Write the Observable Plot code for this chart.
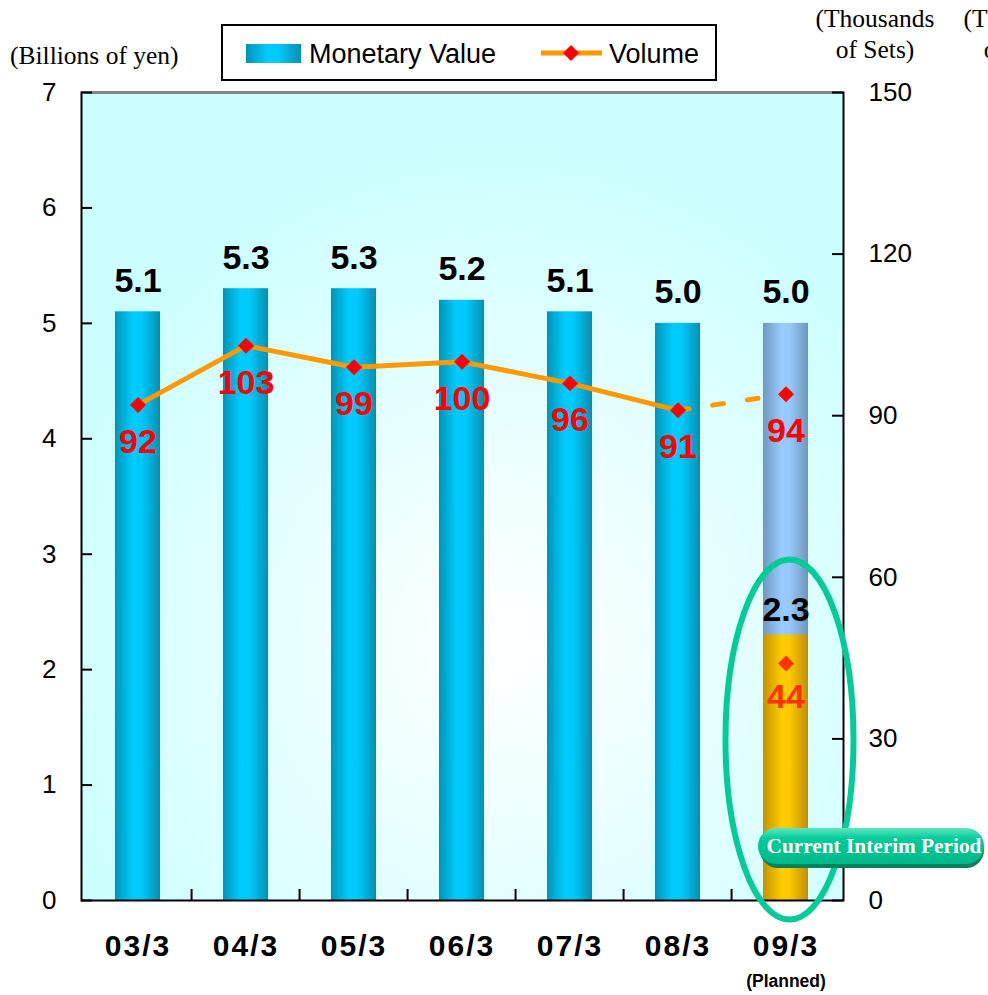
<!DOCTYPE html>
<html>
<head>
<meta charset="utf-8">
<script src="https://cdn.jsdelivr.net/npm/d3@7"></script>
<script src="https://cdn.jsdelivr.net/npm/@observablehq/plot@0.6"></script>
<style>
  html, body { margin: 0; padding: 0; background: #fff; }
  g[aria-label="x-axis tick label"] text { letter-spacing: 2px; }
</style>
</head>
<body>
<div id="chart"></div>
<script>
// Fiscal years (ending March)
const categories = ["03/3", "04/3", "05/3", "06/3", "07/3", "08/3", "09/3"];
// Monetary value, billions of yen
const monetaryValue = [5.1, 5.3, 5.3, 5.2, 5.1, 5.0, 5.0];
// Volume, thousands of sets
const volume = [92, 103, 99, 100, 96, 91, 94];
// Last year is a plan figure
const planned = [false, false, false, false, false, false, true];
// Current interim period results
const interimCategory = "09/3";
const interimValue = 2.3;
const interimVolume = 44;
// Axis ticks
const yenTicks = [0, 1, 2, 3, 4, 5, 6, 7];
const setTicks = [0, 30, 60, 90, 120, 150];

const W = 988, H = 995;
const M = {top: 92, right: 145, bottom: 95, left: 81};
const plotW = W - M.left - M.right;
const plotH = H - M.top - M.bottom;
const step = plotW / categories.length;
const k = 7 / 150; // thousands of sets → billions-of-yen axis units

const rows = categories.map((cat, i) => ({cat, value: monetaryValue[i], vol: volume[i], planned: planned[i]}));
const actual = rows.filter(d => !d.planned);
const plan = rows.filter(d => d.planned);
const interim = [{cat: interimCategory, value: interimValue, vol: interimVolume}];

const LABEL_FONT = "'Liberation Sans', Arial, sans-serif";
const SERIF = "'Liberation Serif', 'Times New Roman', serif";

// Gradient definitions shared by the bars, background and callout
function gradients() {
  const g = d3.create("svg:g");
  const defs = g.append("defs");
  const horiz = (id, stops) => {
    const lg = defs.append("linearGradient").attr("id", id)
      .attr("x1", 0).attr("x2", 1).attr("y1", 0).attr("y2", 0);
    stops.forEach(([o, c]) => lg.append("stop").attr("offset", o).attr("stop-color", c));
  };
  horiz("barBlue", [[0, "#0094b6"], [0.4, "#00ccff"], [0.6, "#00c8fa"], [1, "#0090b0"]]);
  horiz("barPlan", [[0, "#6f98bf"], [0.42, "#99ccff"], [0.6, "#96c8fa"], [1, "#6e96bc"]]);
  horiz("barGold", [[0, "#c49200"], [0.42, "#ffcc00"], [0.6, "#fcc800"], [1, "#c08e00"]]);
  const rg = defs.append("radialGradient").attr("id", "bg")
    .attr("cx", 0.55).attr("cy", 0.68).attr("r", 0.62);
  rg.append("stop").attr("offset", 0).attr("stop-color", "#ffffff");
  rg.append("stop").attr("offset", 1).attr("stop-color", "#ccffff");
  const bd = defs.append("linearGradient").attr("id", "badge")
    .attr("x1", 0).attr("x2", 0).attr("y1", 0).attr("y2", 1);
  bd.append("stop").attr("offset", 0).attr("stop-color", "#5fe6c0");
  bd.append("stop").attr("offset", 0.3).attr("stop-color", "#00cc99");
  bd.append("stop").attr("offset", 1).attr("stop-color", "#00b888");
  return g.node();
}

// Axis titles and legend in the top margin
function header() {
  const g = d3.create("svg:g").attr("text-anchor", "start");
  const t = (x, y, s, anchor = "middle") => g.append("text")
    .attr("x", x).attr("y", y).attr("text-anchor", anchor)
    .attr("font-family", SERIF).attr("font-size", 25.5).attr("fill", "#000").text(s);
  t(10, 64, "(Billions of yen)", "start");
  t(875, 27, "(Thousands");
  t(875, 58, "of Sets)");
  t(1023, 27, "(Thousands");
  t(1023, 58, "of Sets)");

  g.append("rect").attr("x", 222).attr("y", 25).attr("width", 494).attr("height", 55)
    .attr("fill", "#fff").attr("stroke", "#000").attr("stroke-width", 2);
  g.append("rect").attr("x", 246).attr("y", 44).attr("width", 55).attr("height", 19)
    .attr("fill", "url(#barBlue)");
  g.append("text").attr("x", 309).attr("y", 63).attr("text-anchor", "start")
    .attr("font-family", LABEL_FONT).attr("font-size", 27).attr("fill", "#000").text("Monetary Value");
  g.append("line").attr("x1", 541).attr("x2", 602).attr("y1", 53).attr("y2", 53)
    .attr("stroke", "#ff9900").attr("stroke-width", 5);
  g.append("path").attr("d", "M571,45L579,53L571,61L563,53Z").attr("fill", "#ff0000");
  g.append("text").attr("x", 609).attr("y", 63).attr("text-anchor", "start")
    .attr("font-family", LABEL_FONT).attr("font-size", 27).attr("fill", "#000").text("Volume");
  return g.node();
}

// Ellipse and tag marking the current interim period
function interimCallout(index, scales) {
  const {x, y} = scales;
  const bw = x.bandwidth ? x.bandwidth() : step * 0.42;
  const cx = x(interimCategory) + bw / 2;
  const g = d3.create("svg:g");
  const top = y(2.95), bottom = y(-0.17);
  g.append("ellipse").attr("cx", cx + 4).attr("cy", (top + bottom) / 2)
    .attr("rx", 64).attr("ry", (bottom - top) / 2)
    .attr("fill", "none").attr("stroke", "#00cc99").attr("stroke-width", 6);
  const bx = x(interimCategory) - 5, by = y(0) - 72;
  g.append("rect").attr("x", bx + 2).attr("y", by + 3).attr("width", 224).attr("height", 37)
    .attr("rx", 18).attr("fill", "#00805c");
  g.append("rect").attr("x", bx).attr("y", by).attr("width", 226).attr("height", 36)
    .attr("rx", 18).attr("fill", "url(#badge)");
  g.append("text").attr("x", bx + 116).attr("y", by + 25).attr("text-anchor", "middle")
    .attr("font-family", SERIF).attr("font-weight", "bold").attr("font-size", 21.3)
    .attr("fill", "#fff").text("Current Interim Period");
  return g.node();
}

const chart = Plot.plot({
  width: W,
  height: H,
  marginTop: M.top,
  marginRight: M.right,
  marginBottom: M.bottom,
  marginLeft: M.left,
  style: {fontFamily: LABEL_FONT, background: "#fff", overflow: "visible"},
  x: {type: "band", domain: categories, paddingInner: 0.58, paddingOuter: 0.29, axis: null},
  y: {domain: [0, 7], axis: null},
  marks: [
    gradients,
    Plot.frame({fill: "url(#bg)", stroke: "none"}),
    // Monetary value bars
    Plot.barY(actual, {x: "cat", y: "value", fill: "url(#barBlue)"}),
    Plot.barY(plan, {x: "cat", y: "value", fill: "url(#barPlan)"}),
    Plot.barY(interim, {x: "cat", y: "value", fill: "url(#barGold)"}),
    // Frame and inward ticks
    Plot.frame({stroke: "#000", strokeWidth: 2}),
    Plot.ruleY([7], {stroke: "#8c8c8c", strokeWidth: 2, insetLeft: 1, insetRight: 1}),
    Plot.ruleY(yenTicks, {y: d => d, stroke: "#000", strokeWidth: 2, insetRight: plotW - 11}),
    Plot.ruleY(setTicks, {y: d => d * k, stroke: "#000", strokeWidth: 2, insetLeft: plotW - 11}),
    Plot.ruleX(categories.slice(1), {x: d => d, dx: -step / 2, stroke: "#000", strokeWidth: 2, insetTop: plotH - 11}),
    // Axes
    Plot.axisY(yenTicks, {anchor: "left", tickSize: 0, tickPadding: 25, fontSize: 26, label: null,
      tickFormat: d => String(d)}),
    Plot.axisY(setTicks.map(t => t * k), {anchor: "right", tickSize: 0, tickPadding: 25, fontSize: 26, label: null,
      tickFormat: d => String(Math.round(d / k))}),
    Plot.axisX({tickSize: 0, tickPadding: 34, fontSize: 30, fontWeight: "bold", label: null}),
    Plot.text([interimCategory], {x: d => d, frameAnchor: "bottom", dy: 86, text: () => "(Planned)",
      fontSize: 17.5, fontWeight: "bold", fill: "#000"}),
    // Monetary value labels
    Plot.text(rows, {x: "cat", y: "value", text: d => d.value.toFixed(1), dy: -31,
      fontSize: 34, fontWeight: "bold", fill: "#000"}),
    Plot.text(interim, {x: "cat", y: "value", text: d => d.value.toFixed(1), dy: -25,
      fontSize: 34, fontWeight: "bold", fill: "#000"}),
    // Volume line (dashed toward the plan year)
    Plot.line(actual, {x: "cat", y: d => d.vol * k, stroke: "#ff9900", strokeWidth: 5}),
    Plot.line(rows.slice(-2), {x: "cat", y: d => d.vol * k, stroke: "#ff9900", strokeWidth: 5,
      strokeDasharray: "11,24"}),
    Plot.dot(rows, {x: "cat", y: d => d.vol * k, symbol: "diamond2", r: 7.2, fill: "#ff0000", stroke: "none"}),
    Plot.dot(interim, {x: "cat", y: d => d.vol * k, symbol: "diamond2", r: 7.2, fill: "#ff3300", stroke: "none"}),
    Plot.text(rows, {x: "cat", y: d => d.vol * k, text: d => String(d.vol), dy: 37,
      fontSize: 34, fontWeight: "bold", fill: "#ff0000"}),
    Plot.text(interim, {x: "cat", y: d => d.vol * k, text: d => String(d.vol), dy: 34,
      fontSize: 34, fontWeight: "bold", fill: "#ff3300"}),
    interimCallout,
    header
  ]
});

document.getElementById("chart").appendChild(chart);
</script>
</body>
</html>
